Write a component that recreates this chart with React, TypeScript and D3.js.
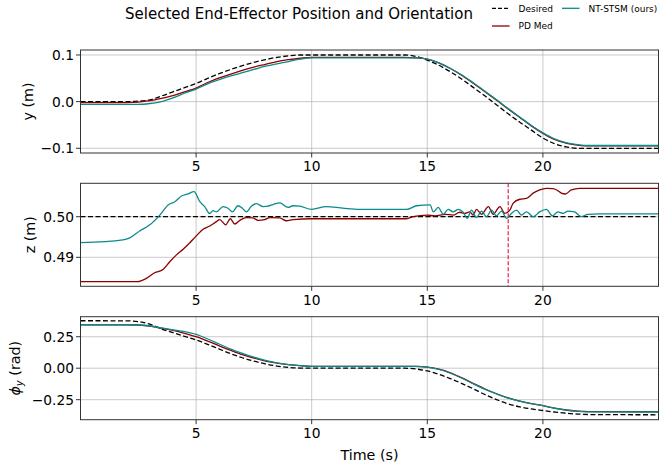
import * as d3 from "d3";

// time grid shared by the y and phi series
const tGrid = [0, 2, 2.5, 3, 3.5, 4, 4.5, 5, 5.5, 6, 6.5, 7, 7.5, 8, 8.5, 9, 9.5, 10,
  14, 14.5, 15, 15.5, 16, 16.5, 17, 17.5, 18, 18.5, 19, 19.5, 20, 20.5, 21, 21.5, 22, 25];

const yDesired = [0, 0, 0.001, 0.004, 0.012, 0.021, 0.03, 0.039, 0.05, 0.06, 0.069, 0.077, 0.084, 0.09, 0.095, 0.098, 0.1, 0.1,
  0.1, 0.097, 0.089, 0.078, 0.064, 0.048, 0.03, 0.012, -0.007, -0.026, -0.044, -0.061, -0.078, -0.09, -0.097, -0.1, -0.1, -0.1];
const yPD = [-0.002, -0.002, -0.001, 0.002, 0.007, 0.013, 0.021, 0.029, 0.041, 0.051, 0.059, 0.067, 0.074, 0.08, 0.086, 0.09, 0.093, 0.095,
  0.095, 0.094, 0.091, 0.083, 0.071, 0.056, 0.039, 0.021, 0.003, -0.016, -0.034, -0.052, -0.068, -0.081, -0.089, -0.093, -0.095, -0.095];
const yNT = [-0.006, -0.006, -0.006, -0.004, 0.0, 0.008, 0.018, 0.027, 0.038, 0.047, 0.055, 0.062, 0.069, 0.076, 0.081, 0.086, 0.091, 0.094,
  0.094, 0.094, 0.091, 0.083, 0.071, 0.057, 0.04, 0.022, 0.004, -0.015, -0.033, -0.051, -0.067, -0.08, -0.088, -0.092, -0.094, -0.094];

const phiDesired = [0.377, 0.376, 0.37, 0.35, 0.312, 0.282, 0.253, 0.224, 0.19, 0.152, 0.115, 0.083, 0.056, 0.034, 0.017, 0.006, 0.001, 0.0,
  0.0, -0.006, -0.022, -0.048, -0.083, -0.122, -0.165, -0.21, -0.25, -0.283, -0.307, -0.323, -0.336, -0.348, -0.358, -0.364, -0.368, -0.37];
const phiPD = [0.345, 0.345, 0.343, 0.335, 0.318, 0.3, 0.277, 0.25, 0.215, 0.178, 0.142, 0.108, 0.08, 0.057, 0.04, 0.028, 0.02, 0.015,
  0.014, 0.014, 0.009, -0.008, -0.037, -0.077, -0.122, -0.165, -0.203, -0.236, -0.261, -0.281, -0.298, -0.317, -0.332, -0.341, -0.345, -0.346];
const phiNT = [0.345, 0.345, 0.343, 0.335, 0.32, 0.305, 0.29, 0.268, 0.232, 0.192, 0.152, 0.117, 0.087, 0.062, 0.043, 0.029, 0.02, 0.015,
  0.014, 0.014, 0.008, -0.01, -0.04, -0.08, -0.125, -0.168, -0.205, -0.238, -0.262, -0.282, -0.298, -0.318, -0.333, -0.342, -0.347, -0.348];

// z series are sampled irregularly (wiggly)
const zDesiredT = [0, 25];
const zDesired = [0.5, 0.5];

const zNTT = [0, 1.84, 2.13, 2.56, 3.0, 3.43, 3.79, 4.08, 4.37, 4.65, 4.91, 5.16, 5.37, 5.59, 5.73, 5.88, 6.17, 6.38, 6.57, 6.81,
  7.0, 7.18, 7.39, 7.61, 7.9, 8.11, 8.33, 8.62, 8.98, 9.19, 9.48, 10.0, 10.63, 11.35, 12.07, 12.95, 14.1, 14.54, 15.12, 15.26,
  15.47, 15.69, 15.9, 16.12, 16.34, 16.55, 16.73, 16.91, 17.13, 17.35, 17.56, 17.78, 17.99, 18.21, 18.43, 18.64, 18.86, 19.07, 19.29, 19.58,
  19.86, 20.15, 20.41, 20.65, 20.87, 21.08, 21.37, 21.66, 21.94, 22.45, 25];
const zNT = [0.4936, 0.4943, 0.4948, 0.4965, 0.498, 0.5004, 0.5029, 0.5037, 0.5051, 0.5056, 0.5062, 0.5037, 0.5025, 0.5008, 0.5015, 0.5012, 0.5025, 0.5021, 0.5012, 0.5027,
  0.5021, 0.5012, 0.5026, 0.5032, 0.5025, 0.5026, 0.503, 0.5034, 0.5023, 0.5027, 0.5026, 0.5018, 0.5025, 0.5021, 0.5018, 0.5018, 0.5018, 0.5027, 0.5029, 0.5012,
  0.5023, 0.5006, 0.5018, 0.5012, 0.5018, 0.5011, 0.4996, 0.5016, 0.4998, 0.5014, 0.5, 0.5016, 0.5002, 0.5014, 0.4996, 0.5008, 0.5016, 0.5004, 0.5012, 0.5,
  0.5012, 0.5018, 0.5002, 0.5012, 0.5008, 0.5014, 0.5012, 0.5, 0.5006, 0.5007, 0.5007];

const zPDT = [0, 2.46, 2.85, 3.21, 3.57, 3.86, 4.15, 4.44, 4.73, 4.98, 5.3, 5.59, 5.88, 6.02, 6.28, 6.48, 6.67, 6.89, 7.18, 7.46,
  7.68, 7.97, 8.18, 8.62, 8.91, 9.19, 10.0, 12.07, 14.1, 14.38, 15.0, 15.33, 15.78, 16.12, 16.4, 16.62, 16.84, 16.98, 17.13, 17.35,
  17.64, 17.85, 18.14, 18.35, 18.57, 18.71, 19.0, 19.29, 19.58, 19.86, 20.15, 20.44, 20.65, 20.8, 20.97, 21.23, 21.59, 22.3, 25];
const zPD = [0.484, 0.484, 0.4848, 0.4862, 0.487, 0.4889, 0.4906, 0.492, 0.4936, 0.4951, 0.4969, 0.4977, 0.4988, 0.4993, 0.498, 0.4995, 0.4982, 0.4991, 0.4998, 0.4997,
  0.4991, 0.4993, 0.4998, 0.4997, 0.499, 0.4993, 0.4995, 0.4995, 0.4995, 0.5, 0.5004, 0.5002, 0.5006, 0.5004, 0.5011, 0.5008, 0.5012, 0.5004, 0.5018, 0.5006,
  0.5025, 0.5006, 0.5025, 0.5008, 0.5016, 0.5033, 0.5043, 0.5045, 0.5058, 0.5066, 0.507, 0.5069, 0.5064, 0.5058, 0.5056, 0.5066, 0.507, 0.507, 0.507];

const eventTime = 18.5;

const xTicks = [5, 10, 15, 20];

const DESIRED = "#000000";
const PD_COLOR = "#8b0000";
const NT_COLOR = "#0b8a8a";
const EVENT_COLOR = "#ee1c4a";
const FONT = "'DejaVu Sans', sans-serif";
const TICK_FS = 13.8;
const LABEL_FS = 14.3;

const W = 659;
const H = 463;
const X0 = 80.5;
const X1 = 658.5;
const PANEL_H = 103;

const x = d3.scaleLinear().domain([0, 25]).range([X0, X1]);

const minus = (f: (n: number) => string) => (n: number) => f(n).replace("-", "\u2212");

type Series = { t: number[]; v: number[]; color: string; dash?: string };

type PanelDef = {
  top: number;
  domain: [number, number];
  ticks: number[];
  fmt: (n: number) => string;
  label: React.ReactNode;
  labelX: number;
  series: Series[];
  event?: number;
};

const panels: PanelDef[] = [
  {
    top: 50,
    domain: [-0.1101, 0.1107],
    ticks: [-0.1, 0, 0.1],
    fmt: minus(d3.format(".1f")),
    label: "y (m)",
    labelX: 27.5,
    series: [
      { t: tGrid, v: yDesired, color: DESIRED, dash: "5,2.5" },
      { t: tGrid, v: yPD, color: PD_COLOR },
      { t: tGrid, v: yNT, color: NT_COLOR },
    ],
  },
  {
    top: 183.3,
    domain: [0.48286, 0.50823],
    ticks: [0.49, 0.5],
    fmt: minus(d3.format(".2f")),
    label: "z (m)",
    labelX: 29.5,
    series: [
      { t: zDesiredT, v: zDesired, color: DESIRED, dash: "5,2.5" },
      { t: zPDT, v: zPD, color: PD_COLOR },
      { t: zNTT, v: zNT, color: NT_COLOR },
    ],
    event: eventTime,
  },
  {
    top: 316.7,
    domain: [-0.409, 0.409],
    ticks: [-0.25, 0, 0.25],
    fmt: minus(d3.format(".2f")),
    label: (
      <>
        <tspan fontStyle="italic">ϕ</tspan>
        <tspan fontStyle="italic" fontSize={10} dy={3}>y</tspan>
        <tspan dy={-3}> (rad)</tspan>
      </>
    ),
    labelX: 15,
    series: [
      { t: tGrid, v: phiDesired, color: DESIRED, dash: "5,2.5" },
      { t: tGrid, v: phiPD, color: PD_COLOR },
      { t: tGrid, v: phiNT, color: NT_COLOR },
    ],
  },
];

const Panel = ({ p, idx }: { p: PanelDef; idx: number }) => {
  const bottom = p.top + PANEL_H;
  const y = d3.scaleLinear().domain(p.domain).range([bottom, p.top]);
  const line = d3
    .line<[number, number]>()
    .x((d) => x(d[0]))
    .y((d) => y(d[1]))
    .curve(d3.curveMonotoneX);
  const clipId = `clip-${idx}`;

  return (
    <g>
      <defs>
        <clipPath id={clipId}>
          <rect x={X0} y={p.top} width={X1 - X0} height={PANEL_H} />
        </clipPath>
      </defs>

      {/* grid */}
      <g stroke="#b0b0b0" strokeOpacity={0.75} strokeWidth={0.9}>
        {xTicks.map((tk) => (
          <line key={"gx" + tk} x1={x(tk)} x2={x(tk)} y1={p.top} y2={bottom} />
        ))}
        {p.ticks.map((tk) => (
          <line key={"gy" + tk} x1={X0} x2={X1} y1={y(tk)} y2={y(tk)} />
        ))}
      </g>

      <g clipPath={`url(#${clipId})`} fill="none">
        {p.series.map((s, i) => (
          <path
            key={i}
            d={line(s.t.map((tt, j) => [tt, s.v[j]]) as [number, number][]) || ""}
            stroke={s.color}
            strokeWidth={1.3}
            strokeDasharray={s.dash}
          />
        ))}
        {p.event !== undefined && (
          <line
            x1={x(p.event)}
            x2={x(p.event)}
            y1={p.top}
            y2={bottom}
            stroke={EVENT_COLOR}
            strokeWidth={1.2}
            strokeDasharray="4,2"
          />
        )}
      </g>

      {/* spines */}
      <rect x={X0} y={p.top} width={X1 - X0} height={PANEL_H} fill="none" stroke="#333" strokeWidth={1} />

      {/* x ticks */}
      <g fontFamily={FONT} fontSize={TICK_FS} fill="#000" textAnchor="middle">
        {xTicks.map((tk) => (
          <g key={"xt" + tk}>
            <line x1={x(tk)} x2={x(tk)} y1={bottom} y2={bottom + 4.5} stroke="#333" strokeWidth={1} />
            <text x={x(tk)} y={bottom + 18.3}>{tk}</text>
          </g>
        ))}
      </g>

      {/* y ticks */}
      <g fontFamily={FONT} fontSize={TICK_FS} fill="#000" textAnchor="end">
        {p.ticks.map((tk) => (
          <g key={"yt" + tk}>
            <line x1={X0 - 4.5} x2={X0} y1={y(tk)} y2={y(tk)} stroke="#333" strokeWidth={1} />
            <text x={74} y={y(tk)} dy="0.36em">{p.fmt(tk)}</text>
          </g>
        ))}
      </g>

      <text
        transform={`translate(${p.labelX},${p.top + PANEL_H / 2}) rotate(-90)`}
        textAnchor="middle"
        dy="0.35em"
        fontFamily={FONT}
        fontSize={LABEL_FS}
      >
        {p.label}
      </text>
    </g>
  );
};

const legendItems = [
  { label: "Desired", color: DESIRED, dash: "4,2", x: 492, y: 8.3 },
  { label: "PD Med", color: PD_COLOR, dash: undefined, x: 492, y: 26 },
  { label: "NT-STSM (ours)", color: NT_COLOR, dash: undefined, x: 562, y: 8.3 },
];

export default function App() {
  return (
    <div style={{ position: "absolute", left: 0, top: 0 }}>
      <svg width={W} height={H} style={{ display: "block", background: "#fff" }}>
        <rect width={W} height={H} fill="#fff" />
        <text x={299} y={18.5} textAnchor="middle" fontFamily={FONT} fontSize={15}>
          Selected End-Effector Position and Orientation
        </text>

        {legendItems.map((it) => (
          <g key={it.label}>
            <line
              x1={it.x}
              x2={it.x + 17.5}
              y1={it.y}
              y2={it.y}
              stroke={it.color}
              strokeWidth={1.3}
              strokeDasharray={it.dash}
            />
            <text x={it.x + 26.5} y={it.y + 3.2} fontFamily={FONT} fontSize={9}>
              {it.label}
            </text>
          </g>
        ))}

        {panels.map((p, i) => (
          <Panel key={i} p={p} idx={i} />
        ))}

        <text x={(X0 + X1) / 2} y={460} textAnchor="middle" fontFamily={FONT} fontSize={LABEL_FS}>
          Time (s)
        </text>
      </svg>
    </div>
  );
}
